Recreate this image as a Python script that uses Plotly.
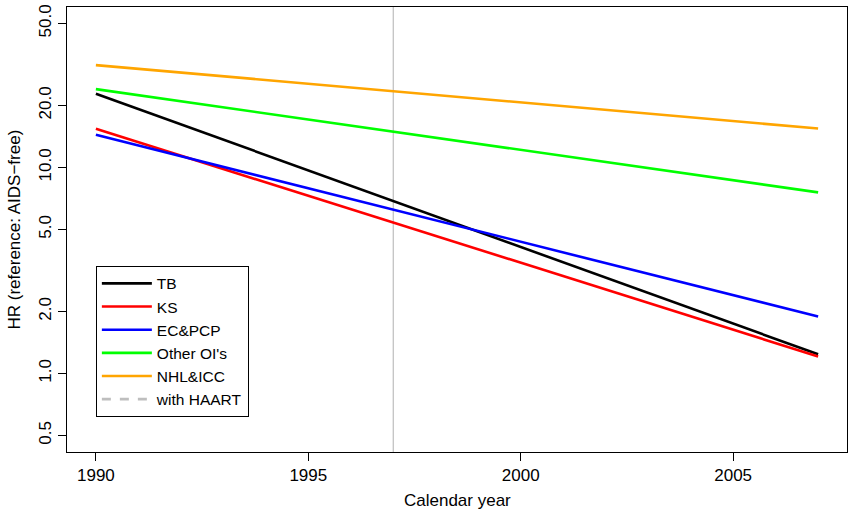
import math
import plotly.graph_objects as go

years = [1990, 2007]
series_names = ["TB", "KS", "EC&PCP", "Other OI's", "NHL&ICC"]
tb = [22.8, 1.24]
ks = [15.4, 1.21]
ec_pcp = [14.4, 1.89]
other_ois = [24.0, 7.57]
nhl_icc = [31.4, 15.45]
series_values = [tb, ks, ec_pcp, other_ois, nhl_icc]
colors = ["#000000", "#FF0000", "#0000FF", "#00FF00", "#FFA500"]
y_tick_vals = [0.5, 1, 2, 5, 10, 20, 50]
y_tick_text = ["0.5", "1.0", "2.0", "5.0", "10.0", "20.0", "50.0"]
x_tick_vals = [1990, 1995, 2000, 2005]
haart_year = 1997
ref_hr = 1.0

FONT = "Liberation Sans, Arial, Helvetica, sans-serif"

fig = go.Figure()
for name, vals, col in zip(series_names, series_values, colors):
    fig.add_trace(go.Scatter(x=years, y=vals, mode="lines", name=name,
                             line=dict(color=col, width=2.6)))
fig.add_trace(go.Scatter(x=[None], y=[None], mode="lines", name="with HAART",
                         line=dict(color="#BEBEBE", width=2.6, dash="dash")))

fig.add_shape(type="line", xref="x", yref="paper", x0=haart_year, x1=haart_year,
              y0=0, y1=1, line=dict(color="#BEBEBE", width=1.2), layer="below")
fig.add_shape(type="line", xref="paper", yref="y", x0=0, x1=1,
              y0=math.log10(ref_hr), y1=math.log10(ref_hr),
              line=dict(color="#BEBEBE", width=1.2), layer="below")

fig.add_annotation(text="Calendar year", xref="paper", yref="paper", x=0.5, y=0,
                   xanchor="center", yanchor="middle", yshift=-48, showarrow=False,
                   font=dict(size=17))
fig.add_annotation(text="HR (reference: AIDS\u2212free)", xref="paper", yref="paper",
                   x=0, y=0.5, xanchor="center", yanchor="middle", xshift=-53,
                   textangle=-90, showarrow=False, font=dict(size=17))

fig.update_layout(
    width=849, height=512,
    margin=dict(l=67, r=2, t=7, b=60, autoexpand=False),
    paper_bgcolor="white", plot_bgcolor="white",
    font=dict(family=FONT, size=17, color="#000000"),
    showlegend=True,
    legend=dict(x=0.037, y=0.079, xanchor="left", yanchor="bottom",
                bordercolor="#000000", borderwidth=1, bgcolor="white",
                font=dict(size=15.5), itemwidth=50, tracegroupgap=0),
)
fig.update_xaxes(
    range=[1989.32, 2007.68], tickvals=x_tick_vals, automargin=False,
    showline=True, mirror=True, linecolor="#000000", linewidth=1,
    ticks="outside", ticklen=8, tickcolor="#000000",
    showgrid=False, zeroline=False,
)
fig.update_yaxes(
    type="log", range=[math.log10(0.5) - 0.08, math.log10(50) + 0.08],
    tickvals=y_tick_vals, ticktext=y_tick_text, tickangle=-90, automargin=False,
    showline=True, mirror=True, linecolor="#000000", linewidth=1,
    ticks="outside", ticklen=8, tickcolor="#000000",
    showgrid=False, zeroline=False,
)

fig.write_html("out.html", config={"displayModeBar": False},
               post_script="document.body.style.margin='0';")
